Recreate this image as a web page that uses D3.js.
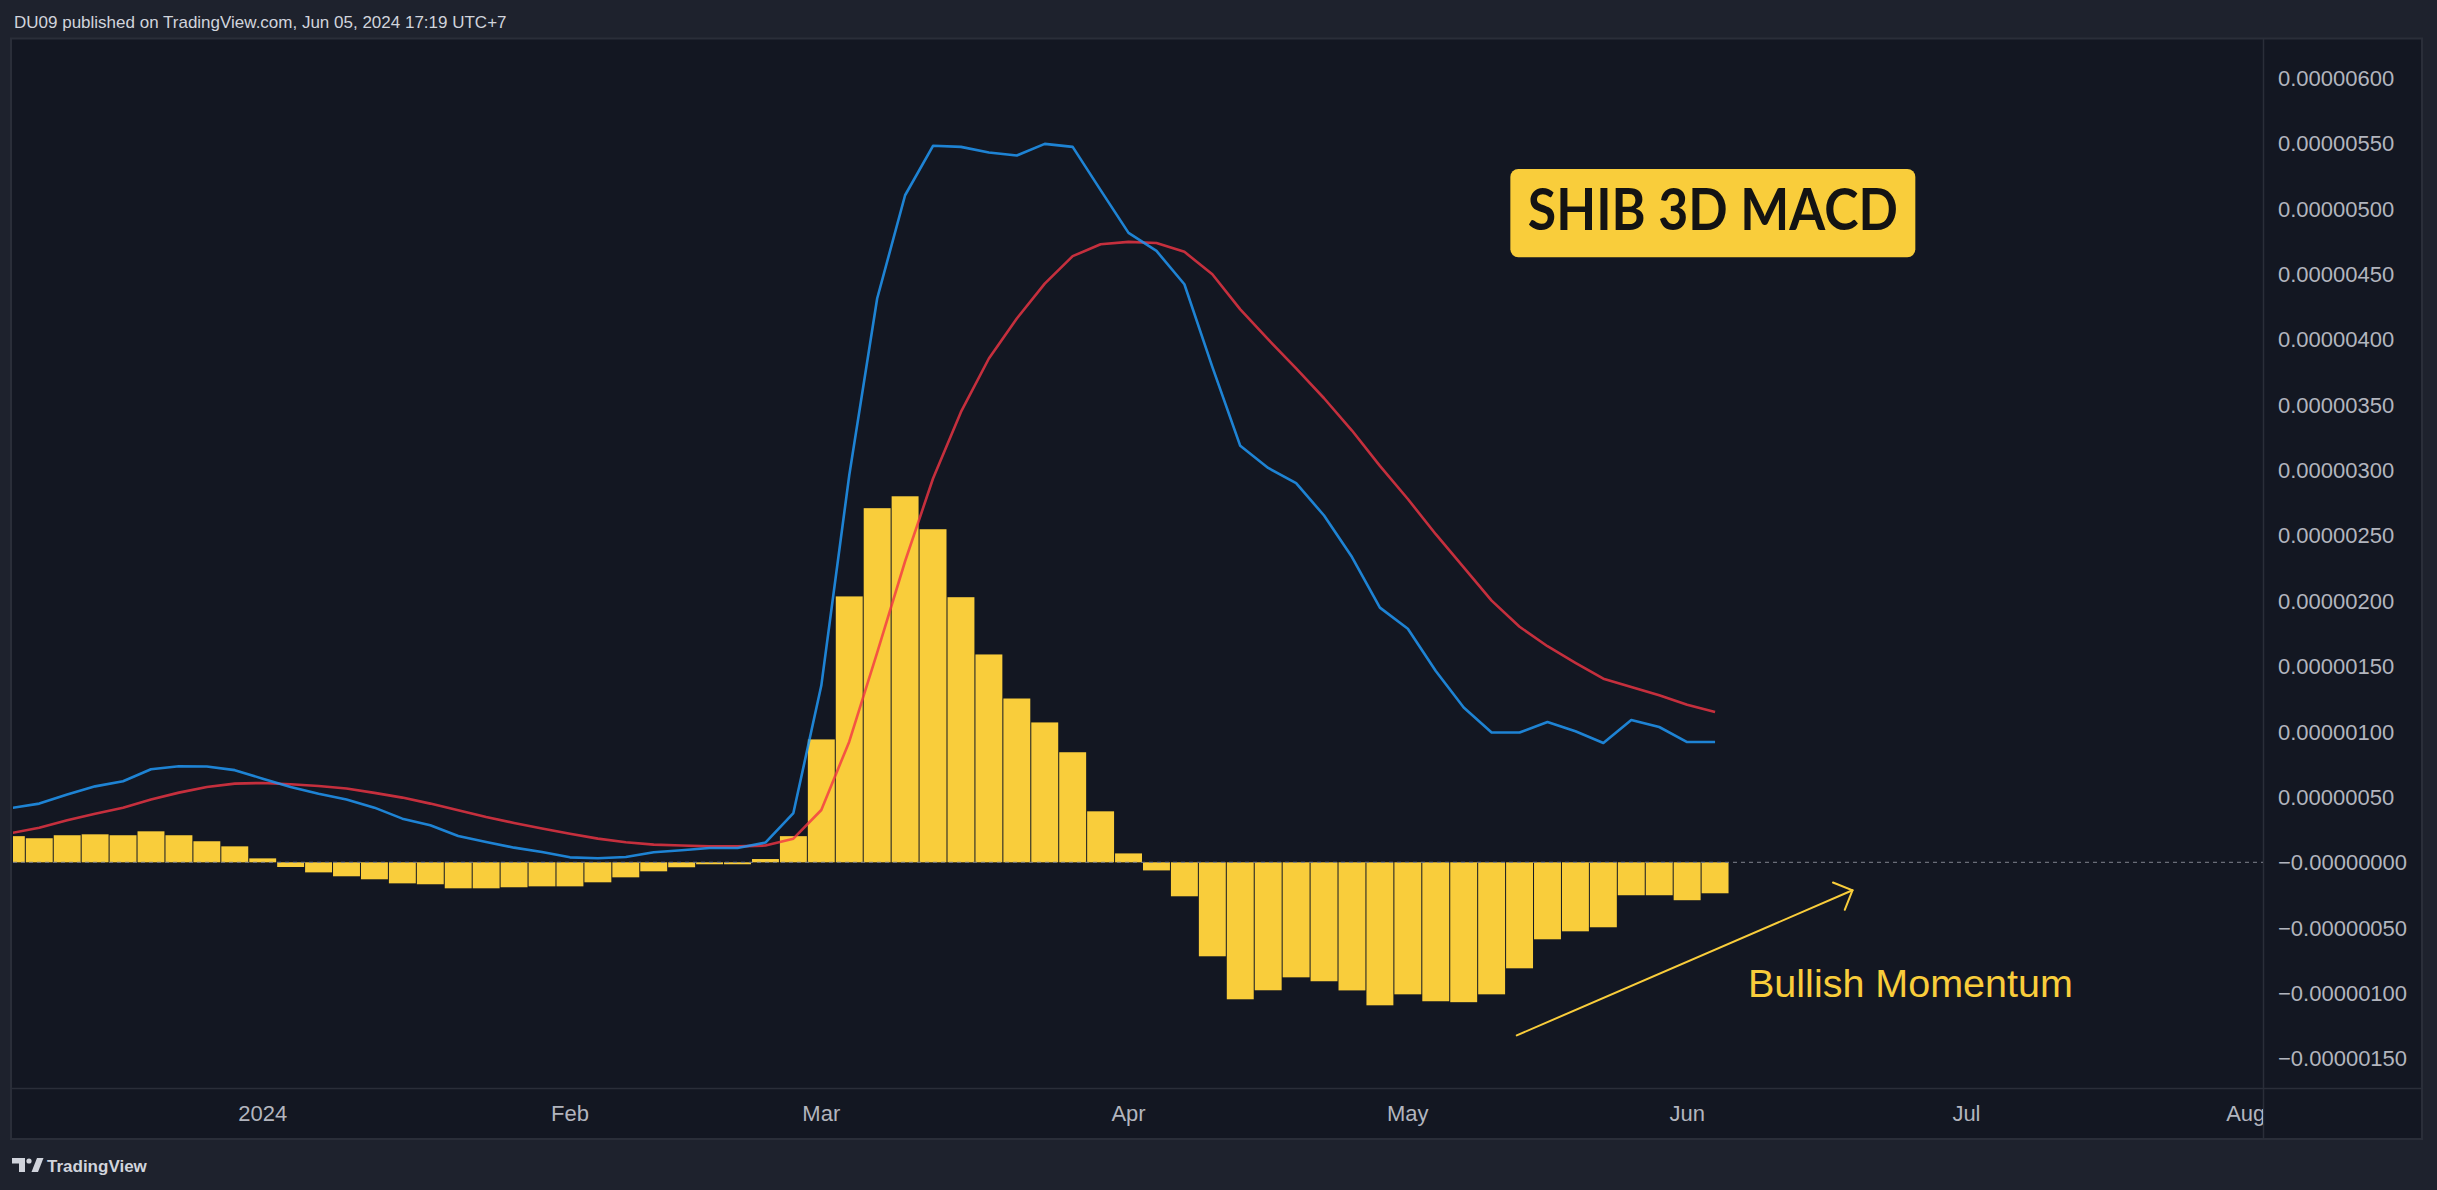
<!DOCTYPE html>
<html>
<head>
<meta charset="utf-8">
<script src="https://cdn.jsdelivr.net/npm/d3@7/dist/d3.min.js"></script>
<style>
  html, body { margin: 0; padding: 0; background: #1e222d; overflow: hidden; }
  svg { display: block; }
</style>
</head>
<body>
<svg id="chart" width="2437" height="1190"></svg>
<script>
// ---------------- DATA (values in units of 1e-8) ----------------
const UNIT = 1e-8;
const firstBarDate = "2023-12-05";   // first (partially visible) 3D bar
const barDays = 3;

const histogram = [
  20, 18.4, 20.7, 21.4, 20.7, 23.7, 20.7, 16.1, 12.2, 3,
  -3.6, -7.7, -10.7, -13, -16.1, -16.8, -19.9, -19.9, -19.1, -18.4,
  -18.4, -15.3, -11.5, -6.9, -3.8, -1.5, -1.5, 2.5, 20, 94,
  203.4, 270.9, 280, 254.8, 202.8, 159, 125.3, 107, 84.2, 39,
  6.8, -6.2, -26, -71.9, -104.8, -97.9, -88, -91, -98, -109.4,
  -101, -106.3, -107, -101, -81.1, -58.9, -52.8, -49.7, -25.2, -25.2,
  -29, -23.7
];
const macdLine = [
  41.5, 44.9, 51.8, 58.1, 62, 71.2, 73.5, 73.3, 70.5, 64,
  57.6, 52.5, 48, 41.8, 33.4, 28.3, 20.1, 15.5, 11.2, 7.9,
  3.8, 3.1, 4.1, 7.7, 9.2, 10.9, 10.9, 15.1, 37.7, 135.2,
  296, 431.3, 510.3, 548.1, 547.3, 543, 540.7, 549.6, 547.3, 514.2,
  481.5, 467.7, 442.2, 379, 318.6, 301.7, 290, 265.3, 233.5, 194.8,
  178.6, 146.3, 118.4, 99.3, 99.3, 107.3, 100.3, 91.3, 108.9, 103.5,
  92, 92
];
const signalLine = [
  22.4, 26.5, 32.1, 37.2, 41.8, 48, 53.3, 57.6, 60.2, 60.7,
  59.7, 58.4, 56.4, 53.1, 49.5, 44.9, 39.8, 34.7, 30.1, 25.8,
  21.9, 18.1, 15.3, 13.5, 12.8, 12.2, 12.2, 12.8, 18.1, 40,
  92.3, 160.4, 230.3, 293.6, 344.5, 385.4, 416, 442.7, 463.7, 472.8,
  474.6, 473.8, 467, 449.9, 423, 400, 377.8, 355, 330.3, 303.3,
  277.9, 251, 225.6, 200.2, 180.2, 165.3, 152.6, 140.5, 134.1, 127.8,
  120.6, 115
];

const monthTickDates  = ["2024-01-01","2024-02-01","2024-03-01","2024-04-01","2024-05-01","2024-06-01","2024-07-01","2024-08-01"];
const monthTickLabels = ["2024","Feb","Mar","Apr","May","Jun","Jul","Aug"];

const yTickValues = [0.000006, 0.0000055, 0.000005, 0.0000045, 0.000004, 0.0000035, 0.000003, 0.0000025,
                     0.000002, 0.0000015, 0.000001, 0.0000005, 0, -0.0000005, -0.000001, -0.0000015];
const yTickLabels = ["0.00000600","0.00000550","0.00000500","0.00000450","0.00000400","0.00000350","0.00000300","0.00000250",
                     "0.00000200","0.00000150","0.00000100","0.00000050","\u22120.00000000","\u22120.00000050","\u22120.00000100","\u22120.00000150"];

const headerText = "DU09 published on TradingView.com, Jun 05, 2024 17:19 UTC+7";
const titleText = "SHIB 3D MACD";
const noteText = "Bullish Momentum";

// ---------------- LAYOUT ----------------
const W = 2437, H = 1190;
const plot = { left: 13, right: 2263, top: 40, bottom: 1088 };
const axisRight = 2422, axisBottom = 1139;
const C = {
  outer: "#1e222d", bg: "#131722", border: "#2a2e39",
  text: "#d1d4dc", axisText: "#b2b5be",
  bar: "#f9cd3b", macd: "#2196f3", signal: "#f23645", dark: "#131313"
};
const FONT = "'Liberation Sans', Arial, sans-serif";

const svg = d3.select("#chart");
svg.append("rect").attr("width", W).attr("height", H).attr("fill", C.outer);

// pane
svg.append("rect").attr("x", 11).attr("y", 38.5).attr("width", axisRight - 11).attr("height", axisBottom - 38.5)
  .attr("fill", C.bg).attr("stroke", C.border).attr("stroke-width", 2);
svg.append("line").attr("x1", plot.right + 0.5).attr("x2", plot.right + 0.5).attr("y1", 39).attr("y2", axisBottom)
  .attr("stroke", C.border).attr("stroke-width", 1.5);
svg.append("line").attr("x1", 11).attr("x2", axisRight).attr("y1", plot.bottom + 0.5).attr("y2", plot.bottom + 0.5)
  .attr("stroke", C.border).attr("stroke-width", 1.5);

// scales
const dayMs = 86400000;
const t0 = Date.parse(firstBarDate + "T00:00:00Z");
const barIndexOf = s => (Date.parse(s + "T00:00:00Z") - t0) / dayMs / barDays;
const step = 27.93;
const x = d3.scaleLinear().domain([0, 81]).range([11.34, 11.34 + step * 81]);
const y = d3.scaleLinear().domain([-0.0000015, 0.000006]).range([862.3 + 130.72 * 1.5, 862.3 - 130.72 * 6]);

const defs = svg.append("defs");
defs.append("clipPath").attr("id", "plotClip").append("rect")
  .attr("x", plot.left).attr("y", plot.top).attr("width", plot.right - plot.left).attr("height", plot.bottom - plot.top);
defs.append("clipPath").attr("id", "timeClip").append("rect")
  .attr("x", plot.left).attr("y", plot.bottom).attr("width", plot.right - plot.left).attr("height", axisBottom - plot.bottom);

const g = svg.append("g").attr("clip-path", "url(#plotClip)");

// histogram
g.selectAll("rect.bar").data(histogram).join("rect").attr("class", "bar")
  .attr("x", (d, i) => x(i) - step / 2 + 0.5)
  .attr("width", step - 1)
  .attr("y", d => y(Math.max(d, 0) * UNIT))
  .attr("height", d => Math.abs(y(d * UNIT) - y(0)))
  .attr("fill", C.bar);

// zero line
g.append("line").attr("x1", plot.left).attr("x2", plot.right).attr("y1", y(0)).attr("y2", y(0))
  .attr("stroke", "#787b86").attr("stroke-width", 1.2).attr("stroke-dasharray", "4,4").attr("opacity", 0.85);

// lines
const line = d3.line().x((d, i) => x(i)).y(d => y(d * UNIT));
g.append("path").datum(signalLine).attr("d", line).attr("fill", "none")
  .attr("stroke", C.signal).attr("stroke-opacity", 0.8).attr("stroke-width", 2.6).attr("stroke-linejoin", "round");
g.append("path").datum(macdLine).attr("d", line).attr("fill", "none")
  .attr("stroke", C.macd).attr("stroke-opacity", 0.85).attr("stroke-width", 2.6).attr("stroke-linejoin", "round");

// y axis labels
svg.append("g").selectAll("text").data(yTickValues).join("text")
  .attr("x", 2278).attr("y", d => y(d)).attr("dy", "0.36em")
  .attr("font-family", FONT).attr("font-size", 22).attr("fill", C.axisText)
  .text((d, i) => yTickLabels[i]);

// x axis labels
const monthIdx = monthTickDates.map(s => Math.ceil(barIndexOf(s) - 1e-9));
svg.append("g").attr("clip-path", "url(#timeClip)").selectAll("text").data(monthIdx).join("text")
  .attr("x", d => x(d)).attr("y", 1121).attr("text-anchor", "middle")
  .attr("font-family", FONT).attr("font-size", 22).attr("fill", C.axisText)
  .text((d, i) => monthTickLabels[i]);

// header & footer
svg.append("text").attr("x", 14).attr("y", 27.5).attr("font-family", FONT).attr("font-size", 17)
  .attr("fill", C.text).text(headerText);
const logo = svg.append("g").attr("fill", C.text);
logo.append("path").attr("d", "M12,1158 H25 V1172 H19 V1163.5 H12 Z");
logo.append("circle").attr("cx", 29).attr("cy", 1161).attr("r", 2.6);
logo.append("path").attr("d", "M31.5,1172 L37,1158 H43.5 L38,1172 Z");
svg.append("text").attr("x", 47).attr("y", 1171.5).attr("font-family", FONT).attr("font-size", 17)
  .attr("font-weight", "bold").attr("fill", C.text).text("TradingView");

// title badge (anchored in chart coordinates)
const tb = { i0: 53.67, i1: 68.17, v0: 0.000005304, v1: 0.000004628 };
svg.append("rect").attr("x", x(tb.i0)).attr("y", y(tb.v0)).attr("width", x(tb.i1) - x(tb.i0))
  .attr("height", y(tb.v1) - y(tb.v0)).attr("rx", 8).attr("fill", C.bar);
svg.append("text").attr("x", (x(tb.i0) + x(tb.i1)) / 2).attr("y", 229.5).attr("text-anchor", "middle")
  .attr("font-family", "Lato, 'Liberation Sans', sans-serif").attr("font-weight", "bold").attr("font-size", 56.5)
  .attr("textLength", 370).attr("lengthAdjust", "spacingAndGlyphs")
  .attr("fill", C.dark).text(titleText);

// arrow annotation
const a0 = [x(53.9), y(-132.4 * UNIT)], a1 = [x(65.92), y(-21.4 * UNIT)];
const ang = Math.atan2(a1[1] - a0[1], a1[0] - a0[0]);
const head = s => [a1[0] - 21 * Math.cos(ang + s * Math.PI / 4), a1[1] - 21 * Math.sin(ang + s * Math.PI / 4)];
const arrow = svg.append("g").attr("stroke", C.bar).attr("stroke-width", 2).attr("fill", "none").attr("stroke-linecap", "round");
arrow.append("line").attr("x1", a0[0]).attr("y1", a0[1]).attr("x2", a1[0]).attr("y2", a1[1]);
arrow.append("path").attr("d", d3.line()([head(1), a1, head(-1)]));

svg.append("text").attr("x", x(62.18)).attr("y", y(-103 * UNIT))
  .attr("font-family", FONT).attr("font-size", 39.5).attr("fill", C.bar).text(noteText);
</script>
</body>
</html>
